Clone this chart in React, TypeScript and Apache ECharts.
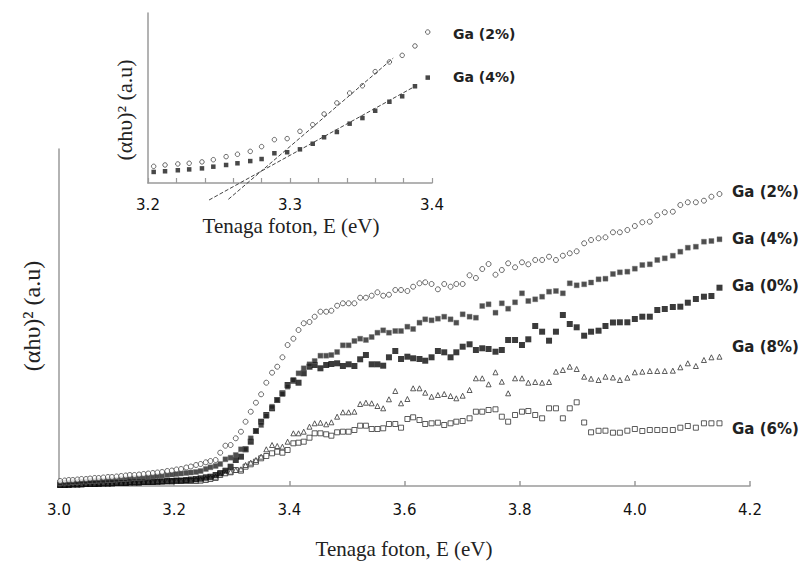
import React, { useEffect, useRef } from "react";
import * as echarts from "echarts";

// Photon energy (eV) of each measured point (shared by all samples)
const energy = [
  3.002, 3.010, 3.017, 3.024, 3.032, 3.039, 3.047, 3.054, 3.062, 3.069,
  3.077, 3.085, 3.092, 3.100, 3.108, 3.116, 3.123, 3.131, 3.139, 3.147,
  3.155, 3.163, 3.171, 3.179, 3.188, 3.196, 3.204, 3.212, 3.221, 3.229,
  3.238, 3.246, 3.255, 3.263, 3.272, 3.280, 3.289, 3.298, 3.307, 3.316,
  3.324, 3.333, 3.342, 3.351, 3.360, 3.370, 3.379, 3.388, 3.397, 3.407,
  3.416, 3.425, 3.435, 3.444, 3.454, 3.464, 3.473, 3.483, 3.493, 3.503,
  3.513, 3.523, 3.533, 3.543, 3.553, 3.563, 3.573, 3.584, 3.594, 3.605,
  3.615, 3.626, 3.636, 3.647, 3.658, 3.669, 3.680, 3.690, 3.701, 3.713,
  3.724, 3.735, 3.746, 3.758, 3.769, 3.780, 3.792, 3.804, 3.815, 3.827,
  3.839, 3.851, 3.863, 3.875, 3.887, 3.899, 3.912, 3.924, 3.937, 3.949,
  3.962, 3.974, 3.987, 4.000, 4.013, 4.026, 4.039, 4.052, 4.066, 4.079,
  4.092, 4.106, 4.120, 4.133, 4.147,
];

const ga2 = [
  5, 5.5, 6, 6, 6.5, 7, 7, 7.5, 8, 8,
  8.5, 9, 9, 9.5, 10, 10.5, 11, 11, 11.5, 12,
  12.5, 13, 13.5, 14, 15, 15.5, 16.5, 17, 18.5, 19.5,
  21, 22, 23.7, 25, 26, 33.3, 40.3, 41, 47.7, 54.3,
  64.3, 74.3, 83.3, 91.7, 103.3, 113.3, 119.3, 128.7, 141, 147.3,
  156, 162.7, 164, 169.3, 174.3, 174.3, 175.3, 180.3, 182.7, 182.7,
  182.7, 188.3, 188.3, 190.3, 193.7, 190.3, 191.3, 196, 196, 195,
  199.3, 202.7, 203.7, 202, 196.7, 202, 199.3, 202, 202, 210.7,
  208, 217, 222, 211.3, 216, 222.7, 218.7, 223.7, 221.7, 226,
  226, 229.3, 226, 230.3, 232.7, 234.7, 242.7, 246, 247.7, 248.7,
  253.7, 253.7, 256, 260, 263.7, 264.3, 270.7, 273.7, 274.3, 281,
  283.7, 283.7, 285.3, 289.3, 292,
];

const ga4 = [
  3, 3.5, 3.5, 4, 4, 4.5, 4.5, 5, 5, 5.5,
  5.5, 6, 6, 6.5, 7, 7, 7.5, 8, 8, 8.5,
  9, 9.5, 10, 10.5, 11, 11.5, 12, 12.5, 13, 13.5,
  14, 15, 17, 18.7, 20, 22, 26.7, 28.3, 31, 36.7,
  36.7, 47.7, 55, 61, 70, 79.3, 86, 92, 99.3, 106,
  112.7, 117.7, 121.7, 125, 130.3, 130.3, 131, 134, 140.7, 140.7,
  145, 147.3, 146, 149, 153.3, 155.7, 153.3, 155, 155, 159.3,
  157, 163.3, 166.7, 165.7, 167.3, 169.3, 166.7, 163.3, 171.7, 169.3,
  168.3, 180, 181.7, 173.3, 182.7, 177.3, 183.7, 192.7, 185, 186.7,
  189.3, 194.3, 195, 192.7, 202.7, 200.7, 201.7, 203.5, 206.7, 207.3,
  212, 213.7, 214.3, 217.3, 221, 221.7, 226, 227.7, 230.3, 234.3,
  238.3, 239.3, 244.3, 245, 246.7,
];

const ga0 = [
  1, 1, 1, 1.5, 1.5, 1.5, 2, 2, 2, 2,
  2.5, 2.5, 2.5, 3, 3, 3, 3.5, 3.5, 3.5, 4,
  4, 4, 4.5, 4.5, 5, 5, 5.5, 5.5, 6, 6.5,
  7, 7.7, 8.7, 9.3, 11, 12.7, 15.3, 19.3, 26, 29.3,
  36.7, 44.3, 55, 64.3, 71, 77.7, 86, 92.7, 101, 105.3,
  103.3, 112.7, 119.3, 121, 117.7, 121, 122, 122.7, 120, 121.7,
  120, 126.7, 131, 121.7, 121.7, 120.3, 128.7, 135, 127, 129.3,
  127.7, 127, 125.3, 128.7, 135, 133.7, 128.7, 133.7, 139.3, 141.7,
  136, 137.7, 137, 134.3, 136, 146, 146, 141, 146.7, 160,
  154.3, 145.3, 154.3, 171, 162, 158.7, 150.3, 154.3, 155.3, 160,
  163.5, 163.7, 163.7, 167, 169.3, 169.3, 176, 177, 179, 179.3,
  183.3, 187, 189.3, 190, 198.3,
];

const ga8 = [
  1.5, 1.5, 2, 2, 2, 2, 2.5, 2.5, 2.5, 3,
  3, 3, 3, 3.5, 3.5, 3.5, 4, 4, 4, 4.5,
  4.5, 4.5, 5, 5, 5, 5.5, 5.5, 5.5, 6, 6,
  6.5, 6.7, 7.7, 8.7, 9.3, 11, 12.7, 14.3, 16, 16.7,
  21, 23.3, 26, 29.3, 36.7, 41, 40, 39.3, 44.3, 52.7,
  52.7, 54.3, 59.3, 62.7, 63.3, 61.7, 63.7, 69.3, 73.7, 73.7,
  74.3, 82, 83.3, 82.7, 80, 77.7, 86.7, 95, 82.7, 87,
  97.7, 97.7, 93.3, 89.3, 91, 92, 90, 87.7, 90.3, 96,
  107.7, 107.7, 101.7, 113.7, 104.3, 92.7, 107.7, 107.7, 103.3, 104,
  103.3, 104, 114.3, 116, 119.3, 117, 109.3, 107.3, 106, 109.3,
  108.5, 106, 108.3, 113.7, 114.3, 115, 115, 115, 115.3, 118.7,
  122.7, 120, 126, 128.7, 129.3,
];

const ga6 = [
  1, 1, 1.5, 1.5, 1.5, 2, 2, 2, 2, 2.5,
  2.5, 2.5, 3, 3, 3, 3, 3.5, 3.5, 3.5, 4,
  4, 4, 4, 4.5, 4.5, 4.5, 5, 5, 5, 5,
  5, 5.3, 6, 7, 8, 12.7, 13.3, 13.7, 16, 15.3,
  19.3, 21.7, 24.3, 27.7, 30, 32.7, 34.3, 33.3, 36, 42.7,
  43.3, 44.3, 48.3, 52.7, 52.7, 51.7, 50.3, 53.7, 54.3, 54.3,
  56, 60.3, 60.3, 57, 57, 57.7, 62, 62, 58.3, 67,
  68.7, 66, 62, 62.7, 63.3, 61, 62.7, 64.3, 65, 67.7,
  74.3, 74.3, 76, 76.7, 69.3, 64.3, 71, 74.3, 75, 71,
  67.7, 77.7, 77.7, 67.7, 77.7, 83.7, 63.5, 53.7, 55.2, 55.3,
  53.3, 53.3, 55.3, 57, 55, 56, 56, 56, 56, 58.3,
  60, 58.3, 62.7, 62.7, 62.7,
];

// Inset (zoom on the absorption edge)
const insetEnergy = [
  3.204, 3.212, 3.221, 3.229, 3.238, 3.246, 3.255, 3.263, 3.272, 3.280,
  3.289, 3.298, 3.307, 3.316, 3.324, 3.333, 3.342, 3.351, 3.360, 3.370,
  3.379, 3.388, 3.397,
];
const inset2 = [
  9.8, 10.6, 11.2, 11.6, 12.4, 13.7, 15.5, 16.9, 18.6, 21.4,
  25.5, 26.1, 30.4, 34.3, 40.6, 47.1, 52.9, 57.2, 65.5, 71.2,
  75.1, 80.6, 88.8,
];
const inset4 = [
  6.5, 6.9, 7.5, 8.0, 8.6, 9.6, 10.6, 11.6, 12.9, 14.1,
  17.5, 18.1, 19.8, 23.1, 26.9, 30.0, 34.9, 38.2, 42.5, 47.8,
  51.0, 56.9, 62.0,
];
const fit2Energy = [3.2566, 3.3727];
const fit2Value = [-9.6, 73.5];
const fit4Energy = [3.243, 3.3868];
const fit4Value = [-10, 56.3];

const mainTicks = { min: 3.0, max: 4.2, interval: 0.2 };
const insetTicks = { min: 3.2, max: 3.4, interval: 0.1 };
const seriesLabels = ["Ga (2%)", "Ga (4%)", "Ga (0%)", "Ga (8%)", "Ga (6%)"];

const pair = (xs: number[], ys: number[]) => xs.map((x, i) => [x, ys[i]]);

const AXIS = "#9a9a9a";
const SANS = "DejaVu Sans";
const SERIF = "Liberation Serif";

export default function App() {
  const ref = useRef<HTMLDivElement>(null);
  useEffect(() => {
    if (!ref.current) return;
    const chart = echarts.init(ref.current, null, { renderer: "svg" });
    const axisCommon = {
      type: "value" as const,
      splitLine: { show: false },
      axisLine: { show: true, onZero: false, lineStyle: { color: AXIS, width: 1.5 } },
    };
    const open = (c: string) => ({ color: "#fff", borderColor: c, borderWidth: 1 });
    chart.setOption({
      animation: false,
      backgroundColor: "#fff",
      grid: [
        { left: 59, top: 149, width: 691, height: 337 },
        { left: 148, top: 13, width: 284, height: 170 },
      ],
      xAxis: [
        {
          ...axisCommon,
          gridIndex: 0,
          min: mainTicks.min,
          max: mainTicks.max,
          interval: mainTicks.interval,
          axisTick: { show: true, inside: true, length: 5, lineStyle: { color: AXIS, width: 1.5 } },
          axisLabel: {
            formatter: (v: number) => v.toFixed(1),
            fontFamily: SANS,
            fontSize: 15,
            color: "#111",
            margin: 16,
          },
        },
        {
          ...axisCommon,
          gridIndex: 1,
          min: insetTicks.min,
          max: insetTicks.max,
          interval: insetTicks.interval,
          axisTick: { show: true, inside: true, length: 5, lineStyle: { color: AXIS, width: 1.2 } },
          minorTick: { show: true, splitNumber: 5, length: 5, lineStyle: { color: AXIS, width: 1.2 } },
          axisLabel: {
            formatter: (v: number) => v.toFixed(1),
            fontFamily: SANS,
            fontSize: 15,
            color: "#111",
            margin: 14,
          },
        },
      ],
      yAxis: [
        { ...axisCommon, gridIndex: 0, min: 0, max: 337, axisTick: { show: false }, axisLabel: { show: false } },
        { ...axisCommon, gridIndex: 1, min: 0, max: 100, axisTick: { show: false }, axisLabel: { show: false } },
      ],
      series: [
        { type: "scatter", name: seriesLabels[4], data: pair(energy, ga6), symbol: "rect", symbolSize: 5, itemStyle: open("#333") },
        { type: "scatter", name: seriesLabels[3], data: pair(energy, ga8), symbol: "triangle", symbolSize: 5, itemStyle: open("#333") },
        { type: "scatter", name: seriesLabels[2], data: pair(energy, ga0), symbol: "rect", symbolSize: 6, itemStyle: { color: "#0a0a0a" } },
        { type: "scatter", name: seriesLabels[1], data: pair(energy, ga4), symbol: "rect", symbolSize: 5, itemStyle: { color: "#222", borderColor: "#777", borderWidth: 0.5 } },
        { type: "scatter", name: seriesLabels[0], data: pair(energy, ga2), symbol: "circle", symbolSize: 5, itemStyle: open("#444") },
        {
          type: "line", xAxisIndex: 1, yAxisIndex: 1, data: pair(fit2Energy, fit2Value), clip: false,
          symbol: "none", lineStyle: { color: "#444", width: 1, type: [4, 2] },
        },
        {
          type: "line", xAxisIndex: 1, yAxisIndex: 1, data: pair(fit4Energy, fit4Value), clip: false,
          symbol: "none", lineStyle: { color: "#444", width: 1, type: [4, 2] },
        },
        { type: "scatter", xAxisIndex: 1, yAxisIndex: 1, data: pair(insetEnergy, inset4), symbol: "rect", symbolSize: 4.5, itemStyle: { color: "#1a1a1a" } },
        { type: "scatter", xAxisIndex: 1, yAxisIndex: 1, data: pair(insetEnergy, inset2), symbol: "circle", symbolSize: 4.5, itemStyle: open("#444") },
      ],
      graphic: [
        ...[192, 239, 286, 347, 429].map((y, i) => ({
          type: "text", x: 732, y,
          style: { text: seriesLabels[i], font: `bold 15px "${SANS}"`, fill: "#222", verticalAlign: "middle", align: "left" },
        })),
        ...[34, 77].map((y, i) => ({
          type: "text", x: 453, y,
          style: { text: seriesLabels[i], font: `bold 14px "${SANS}"`, fill: "#222", verticalAlign: "middle", align: "left" },
        })),
        {
          type: "text", x: 404, y: 549,
          style: { text: "Tenaga foton, E (eV)", font: `21px "${SERIF}"`, fill: "#222", align: "center", verticalAlign: "middle" },
        },
        {
          type: "text", x: 291, y: 226,
          style: { text: "Tenaga foton, E (eV)", font: `21px "${SERIF}"`, fill: "#222", align: "center", verticalAlign: "middle" },
        },
        {
          type: "text", x: 32, y: 316, rotation: Math.PI / 2,
          style: { text: "(αhυ)² (a.u)", font: `24px "${SERIF}"`, fill: "#222", align: "center", verticalAlign: "middle" },
        },
        {
          type: "text", x: 124, y: 110, rotation: Math.PI / 2,
          style: { text: "(αhυ)² (a.u)", font: `22px "${SERIF}"`, fill: "#222", align: "center", verticalAlign: "middle" },
        },
      ],
    });
    return () => chart.dispose();
  }, []);
  return (
    <div
      ref={ref}
      style={{ position: "fixed", left: 0, top: 0, width: 803, height: 561, background: "#fff" }}
    />
  );
}
